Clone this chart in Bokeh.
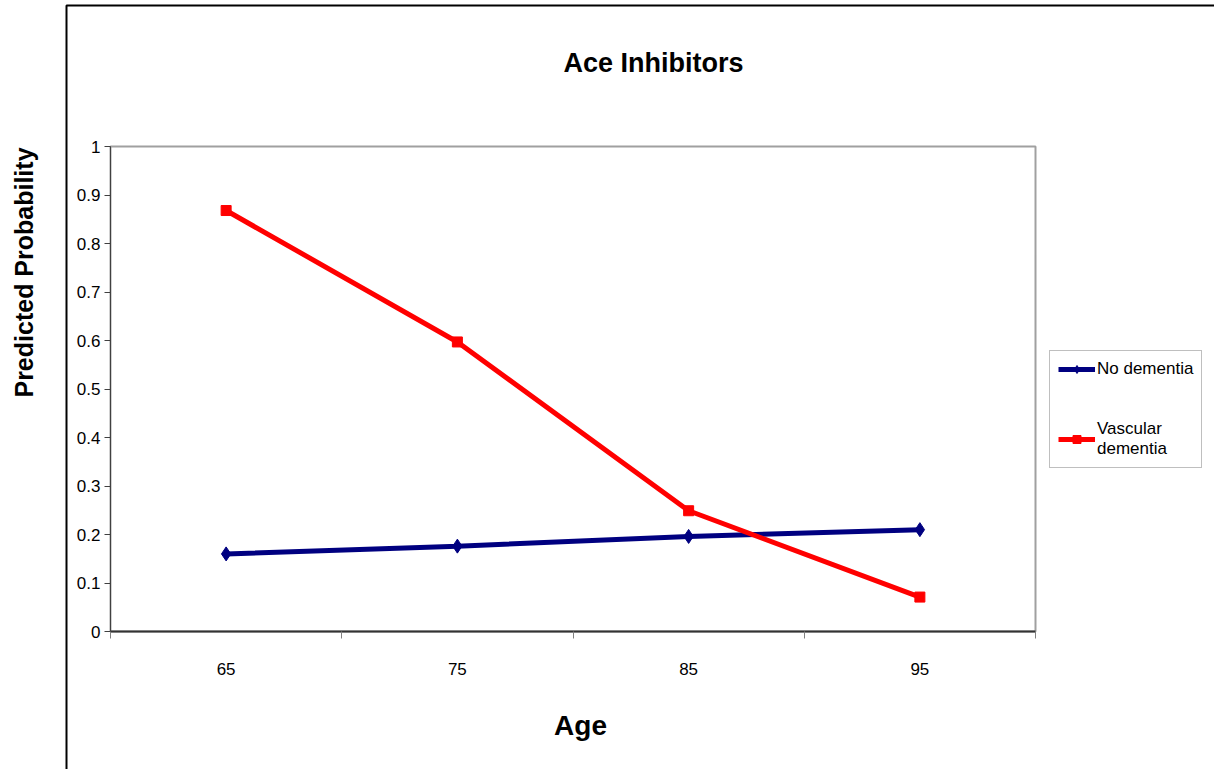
import math

from bokeh.embed import file_html
from bokeh.models import BoxAnnotation, FixedTicker, Label, Legend, LegendItem, Range1d
from bokeh.plotting import figure
from bokeh.resources import INLINE

# Predicted probability by age group
ages = ["65", "75", "85", "95"]
no_dementia = [0.160, 0.176, 0.196, 0.210]
vascular_dementia = [0.868, 0.597, 0.249, 0.071]
y_ticks = [0, 0.1, 0.2, 0.3, 0.4, 0.5, 0.6, 0.7, 0.8, 0.9, 1]

FONT = "Liberation Sans"
W, H = 1214, 769

# pixel box of the plotting area inside the canvas
PL, PR, PT, PB = 110, 1035, 146, 631
n = len(ages)
sx = (PR - PL) / n          # pixels per category slot
sy = (PB - PT) / 1.0        # pixels per probability unit


def dx(px):
    """canvas x pixel -> data x"""
    return (px - PL) / sx


def dy(py):
    """canvas y pixel (from top) -> data y"""
    return (PB - py) / sy


# categories sit in the middle of their slots; tick marks fall between slots
x_mid = [i + 0.5 for i in range(n)]
x_edges = list(range(n + 1))

p = figure(
    width=W, height=H, output_backend="svg", toolbar_location=None,
    x_range=Range1d(dx(0), dx(W)), y_range=Range1d(dy(H), dy(0)),
    min_border=0, background_fill_color="white", border_fill_color="white",
)
p.xgrid.visible = False
p.ygrid.visible = False
p.outline_line_color = None

# plot area edge (top and right show; left/bottom are covered by the axes)
p.add_layout(BoxAnnotation(
    left=0, right=n, bottom=0, top=1, level="underlay",
    fill_alpha=0, line_color="#a0a0a0", line_alpha=1, line_width=2,
))

# chart area frame, left and top edges in view
p.add_layout(BoxAnnotation(
    left=dx(66), right=dx(W + 200), top=dy(5), bottom=dy(H + 200),
    fill_alpha=0, line_color="black", line_alpha=1, line_width=2,
))

# y axis
ya = p.yaxis[0]
ya.fixed_location = 0
ya.bounds = (0, 1)
ya.ticker = FixedTicker(ticks=y_ticks)
ya.major_label_overrides = {t: f"{t:g}" for t in y_ticks}
ya.axis_line_color = "#404040"
ya.axis_line_width = 1
ya.major_tick_line_color = "#404040"
ya.major_tick_out = 6
ya.major_tick_in = 0
ya.minor_tick_line_color = None
ya.major_label_text_font = FONT
ya.major_label_text_font_size = "17px"
ya.major_label_text_color = "black"
ya.major_label_standoff = 4

# x axis
xa = p.xaxis[0]
xa.fixed_location = 0
xa.bounds = (0, n)
xa.ticker = FixedTicker(ticks=x_mid, minor_ticks=x_edges)
xa.major_label_overrides = {m: a for m, a in zip(x_mid, ages)}
xa.axis_line_color = "#333333"
xa.axis_line_width = 2
xa.major_tick_out = 0
xa.major_tick_in = 0
xa.major_tick_line_color = None
xa.minor_tick_line_color = "#808080"
xa.minor_tick_out = 7
xa.minor_tick_in = 0
xa.major_label_text_font = FONT
xa.major_label_text_font_size = "17px"
xa.major_label_text_color = "black"
xa.major_label_standoff = 24

# series
blue = "#000080"
red = "#ff0000"
l1 = p.line(x_mid, no_dementia, line_color=blue, line_width=5)
m1 = p.scatter(x_mid, no_dementia, marker="diamond", size=14, color=blue)
l2 = p.line(x_mid, vascular_dementia, line_color=red, line_width=5)
m2 = p.scatter(x_mid, vascular_dementia, marker="square", size=10, color=red)

legend = Legend(
    items=[
        LegendItem(label="No dementia", renderers=[l1, m1]),
        LegendItem(label="Vascular\ndementia", renderers=[l2, m2]),
    ],
    location=(1049, H - 468),
    border_line_color="#808080", border_line_width=1,
    background_fill_color="white", background_fill_alpha=1,
    label_text_font=FONT, label_text_font_size="17px", label_text_color="black",
    glyph_width=37, glyph_height=20, label_height=20, label_standoff=2,
    padding=8, spacing=40, margin=0,
)
p.add_layout(legend, "center")

p.add_layout(Label(
    x=dx(653), y=dy(62), text="Ace Inhibitors",
    text_align="center", text_baseline="middle",
    text_font=FONT, text_font_style="bold", text_font_size="27px", text_color="black",
))
p.add_layout(Label(
    x=dx(580), y=dy(725), text="Age",
    text_align="center", text_baseline="middle",
    text_font=FONT, text_font_style="bold", text_font_size="28px", text_color="black",
))
p.add_layout(Label(
    x=dx(23), y=dy(272), text="Predicted Probability",
    angle=math.pi / 2, text_align="center", text_baseline="middle",
    text_font=FONT, text_font_style="bold", text_font_size="25px", text_color="black",
))

open("out.html", "w").write(file_html(p, INLINE))
